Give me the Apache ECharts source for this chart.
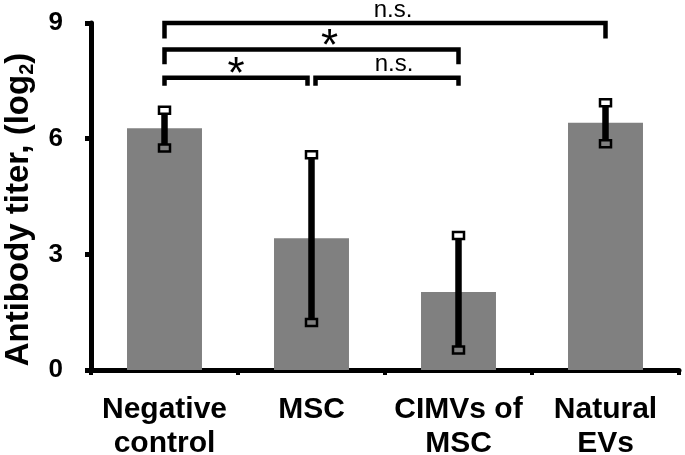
<!DOCTYPE html>
<html>
<head>
<meta charset="utf-8">
<script src="https://cdn.jsdelivr.net/npm/echarts@6/dist/echarts.min.js"></script>
<style>
html,body{margin:0;padding:0;background:#fff;}
#chart{width:685px;height:455px;}
</style>
</head>
<body>
<div id="chart"></div>
<script>
// ---- data ----
const categories = ['Negative\ncontrol', 'MSC', 'CIMVs of\nMSC', 'Natural\nEVs'];
const means = [6.27, 3.42, 2.02, 6.41];
const errLow = [5.76, 1.23, 0.52, 5.87];
const errHigh = [6.74, 5.58, 3.49, 6.93];
const yTicks = [0, 3, 6, 9];
// significance brackets
const bracketFrom = [0, 0, 0, 1];
const bracketTo = [3, 2, 1, 2];
const bracketLevel = [9.0, 8.31, 7.58, 7.58];
const bracketLegEnd = [8.6, 7.93, 7.37, 7.37];
const bracketLabel = ['n.s.', '*', '*', 'n.s.'];

// ---- styles ----
const FONT = 'Liberation Sans, Arial, sans-serif';
const labelDx = [8, 18, 0, 7];   // pixel nudges of the bracket labels

const chart = echarts.init(document.getElementById('chart'), null, {renderer: 'canvas'});

const errData = means.map((m, i) => [i, errLow[i], errHigh[i], m]);
const bracketData = bracketFrom.map((f, i) => [f, bracketTo[i], bracketLevel[i], bracketLegEnd[i], i]);

function renderErr(params, api) {
  const i = api.value(0), lo = api.value(1), hi = api.value(2), m = api.value(3);
  const pHi = api.coord([i, hi]);
  const pLo = api.coord([i, lo]);
  const capW = 11, capH = 7;
  const cap = (p, v) => ({
    type: 'rect',
    shape: {x: p[0] - capW / 2, y: p[1] - capH / 2, width: capW, height: capH},
    style: {fill: v > m ? '#ffffff' : '#808080', stroke: '#000', lineWidth: 2.5}
  });
  return {
    type: 'group',
    children: [
      {type: 'line', shape: {x1: pHi[0], y1: pHi[1], x2: pLo[0], y2: pLo[1]}, style: {stroke: '#000', lineWidth: 6.5}},
      cap(pHi, hi),
      cap(pLo, lo)
    ]
  };
}

function renderBracket(params, api) {
  const f = api.value(0), t = api.value(1), lev = api.value(2), leg = api.value(3), k = api.value(4);
  const pL = api.coord([f, lev]);
  const pR = api.coord([t, lev]);
  const yLeg = api.coord([f, leg])[1];
  let xL = pL[0], xR = pR[0];
  // small gap where two brackets on one level share an end
  for (let j = 0; j < bracketFrom.length; j++) {
    if (j === k || bracketLevel[j] !== lev) continue;
    if (bracketTo[j] === f) xL += 4;
    if (bracketFrom[j] === t) xR -= 4;
  }
  const y = pL[1];
  const label = bracketLabel[k];
  const isStar = label === '*';
  return {
    type: 'group',
    children: [
      {type: 'polyline', shape: {points: [[xL, yLeg], [xL, y], [xR, y], [xR, yLeg]]},
       style: {stroke: '#000', lineWidth: 4.5, fill: null, lineJoin: 'miter', lineCap: 'butt'}},
      {type: 'text', x: (xL + xR) / 2 + labelDx[k], y: isStar ? y - 2 : y - 13,
       style: {text: label, align: 'center', verticalAlign: 'middle',
               font: isStar ? 'normal 44px ' + FONT : 'normal 24px ' + FONT, fill: '#000'}}
    ]
  };
}

const option = {
  animation: false,
  backgroundColor: '#ffffff',
  grid: {left: 91, right: 6, top: 23, bottom: 85, containLabel: false, outerBoundsMode: 'none'},
  xAxis: {
    type: 'category',
    data: categories,
    axisLine: {lineStyle: {color: '#000', width: 5}},
    axisTick: {show: true, length: 5, lineStyle: {color: '#000', width: 4}},
    axisLabel: {interval: 0, margin: 23, fontSize: 30, fontWeight: 'bold', fontFamily: FONT, color: '#000', lineHeight: 34}
  },
  yAxis: {
    type: 'value',
    min: yTicks[0], max: yTicks[yTicks.length - 1], interval: yTicks[1] - yTicks[0],
    splitLine: {show: false},
    axisLine: {show: true, lineStyle: {color: '#000', width: 5}},
    axisTick: {show: true, length: 6, lineStyle: {color: '#000', width: 5}},
    axisLabel: {margin: 28, fontSize: 26, fontWeight: 'bold', fontFamily: FONT, color: '#000'},
    name: '{a|Antibody titer, (log}{s|2}{a|)}',
    nameLocation: 'middle',
    nameGap: 50,
    nameTextStyle: {
      fontSize: 33, fontWeight: 'bold', fontFamily: FONT, color: '#000',
      padding: [0, 26, 0, 0],
      rich: {
        a: {fontSize: 33, fontWeight: 'bold', fontFamily: FONT, color: '#000', lineHeight: 38},
        s: {fontSize: 20, fontWeight: 'bold', fontFamily: FONT, color: '#000', lineHeight: 20, verticalAlign: 'bottom'}
      }
    }
  },
  series: [
    {type: 'bar', data: means, barWidth: '51%', itemStyle: {color: '#808080'}, z: 2},
    {type: 'custom', data: errData, renderItem: renderErr, encode: {x: 0, y: [1, 2]}, z: 3, clip: false},
    {type: 'custom', data: bracketData, renderItem: renderBracket, encode: {x: [0, 1], y: [2, 3]}, z: 4, clip: false}
  ]
};
chart.setOption(option);
</script>
</body>
</html>
